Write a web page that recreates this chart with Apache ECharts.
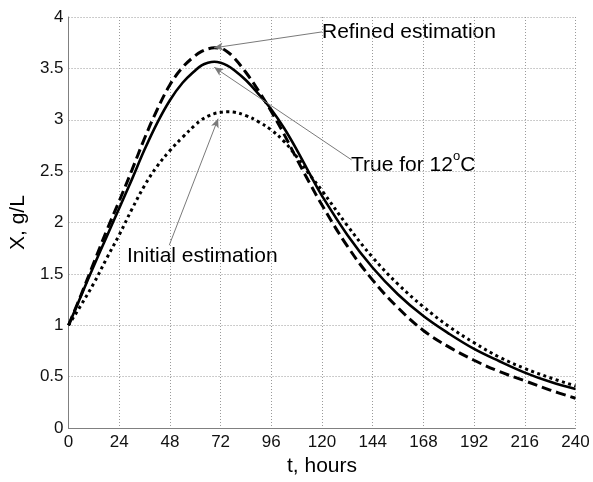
<!DOCTYPE html>
<html>
<head>
<meta charset="utf-8">
<script src="https://cdn.jsdelivr.net/npm/echarts@6/dist/echarts.min.js"></script>
<style>
  html, body { margin: 0; padding: 0; background: #fff; }
  #chart { width: 593px; height: 482px; }
</style>
</head>
<body>
<div id="chart"></div>
<script>
/* ---------------------------- data ---------------------------- */
const hours = [0, 6, 12, 18, 24, 30, 36, 42, 48, 54, 60, 63, 66, 69, 72, 75, 78, 84, 90, 96, 102, 108, 114, 120,
  132, 144, 156, 168, 180, 192, 204, 216, 228, 240];

const trueX = [1.00, 1.29, 1.58, 1.86, 2.14, 2.42, 2.71, 2.97, 3.19, 3.36, 3.48, 3.53, 3.555, 3.565, 3.555, 3.53, 3.49, 3.385,
  3.25, 3.10, 2.92, 2.71, 2.48, 2.26, 1.88, 1.56, 1.30, 1.09, 0.92, 0.77, 0.65, 0.54, 0.45, 0.38];

const refinedX = [1.00, 1.30, 1.61, 1.92, 2.21, 2.51, 2.82, 3.10, 3.34, 3.51, 3.625, 3.665, 3.69, 3.70, 3.695, 3.665, 3.61, 3.46,
  3.28, 3.08, 2.86, 2.62, 2.39, 2.17, 1.77, 1.44, 1.17, 0.95, 0.79, 0.66, 0.55, 0.46, 0.37, 0.29];

const initialX = [1.00, 1.20, 1.41, 1.65, 1.88, 2.13, 2.36, 2.55, 2.70, 2.83, 2.95, 3.00, 3.035, 3.06, 3.072, 3.078, 3.075, 3.04,
  2.98, 2.90, 2.79, 2.64, 2.47, 2.31, 1.97, 1.66, 1.40, 1.18, 0.99, 0.83, 0.69, 0.58, 0.49, 0.41];

// annotation arrows: [from, to] in data units
const refinedArrow = [[120, 3.855], [68.9, 3.70]];
const trueArrow = [[134, 2.61], [69, 3.51]];
const initialArrow = [[47.7, 1.78], [70.8, 3.01]];

const FONT = '"Liberation Sans", Arial, sans-serif';

const pairs = ys => hours.map((h, i) => [h, ys[i]]);
const arrow = a => [{ coord: a[0] }, { coord: a[1] }];

const chart = echarts.init(document.getElementById('chart'), null, { renderer: 'canvas' });

const arrowMark = a => ({
  silent: true,
  symbol: ['none', 'arrow'],
  symbolSize: [6, 9],
  label: { show: false },
  lineStyle: { color: '#7a7a7a', width: 1, type: 'solid' },
  data: [arrow(a)]
});

chart.setOption({
  animation: false,
  backgroundColor: '#fff',
  grid: { left: 67, right: 17.5, top: 17, bottom: 45 },
  xAxis: {
    type: 'value',
    min: 0,
    max: 240,
    interval: 24,
    name: 't, hours',
    nameLocation: 'middle',
    nameGap: 21,
    nameTextStyle: { fontFamily: FONT, fontSize: 21, color: '#000' },
    axisLine: { lineStyle: { color: '#808080', width: 1 } },
    axisTick: { show: false },
    axisLabel: { fontFamily: FONT, fontSize: 17, color: '#111', margin: 6 },
    splitLine: { show: true, lineStyle: { color: '#9a9a9a', width: 1, type: [1, 2] } }
  },
  yAxis: {
    type: 'value',
    min: 0,
    max: 4,
    interval: 0.5,
    name: 'X, g/L',
    nameLocation: 'middle',
    nameGap: 36,
    nameTextStyle: { fontFamily: FONT, fontSize: 21, color: '#000' },
    axisLine: { show: true, lineStyle: { color: '#808080', width: 1 } },
    axisTick: { show: false },
    axisLabel: { fontFamily: FONT, fontSize: 17, color: '#111', margin: 5 },
    splitLine: { show: true, lineStyle: { color: '#9a9a9a', width: 1, type: [1, 2] } }
  },
  series: [
    {
      name: 'Initial estimation',
      type: 'line',
      data: pairs(initialX),
      smooth: 0.4,
      showSymbol: false,
      lineStyle: { color: '#000', width: 3, type: [3, 3.5] },
      markLine: arrowMark(initialArrow)
    },
    {
      name: 'True for 12°C',
      type: 'line',
      data: pairs(trueX),
      smooth: 0.4,
      showSymbol: false,
      lineStyle: { color: '#000', width: 2.6, type: 'solid' },
      markLine: arrowMark(trueArrow)
    },
    {
      name: 'Refined estimation',
      type: 'line',
      data: pairs(refinedX),
      smooth: 0.4,
      showSymbol: false,
      lineStyle: { color: '#000', width: 3, type: [10, 5] },
      markLine: arrowMark(refinedArrow)
    }
  ],
  graphic: [
    {
      type: 'text',
      left: 322,
      top: 22,
      style: { text: 'Refined estimation', font: '21px ' + FONT, fill: '#000' }
    },
    {
      type: 'text',
      left: 351,
      top: 146,
      style: {
        text: '{a|True for 12}{b|o}{a|C}',
        fill: '#000',
        rich: {
          a: { fontFamily: FONT, fontSize: 21, lineHeight: 30, verticalAlign: 'bottom' },
          b: { fontFamily: FONT, fontSize: 13, lineHeight: 14, verticalAlign: 'top', padding: [4, 0, 0, 0] }
        }
      }
    },
    {
      type: 'text',
      left: 127,
      top: 246,
      style: { text: 'Initial estimation', font: '21px ' + FONT, fill: '#000' }
    }
  ]
});
</script>
</body>
</html>
